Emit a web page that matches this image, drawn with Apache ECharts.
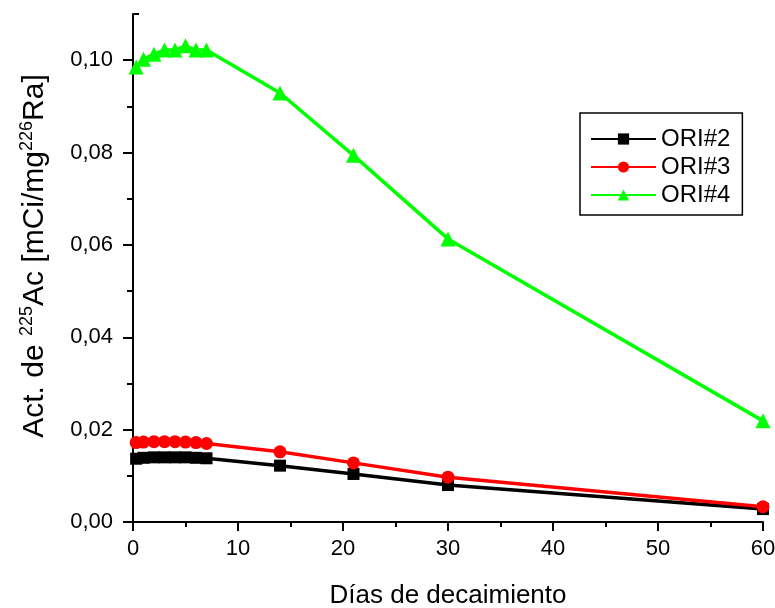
<!DOCTYPE html>
<html><head><meta charset="utf-8">
<script src="https://cdn.jsdelivr.net/npm/echarts@6/dist/echarts.min.js"></script>
<style>html,body{margin:0;padding:0;background:#fff}#c{width:775px;height:608px}</style>
</head><body><div id="c"></div>
<script>
var days = [0.3, 1, 2, 3, 4, 5, 6, 7, 14, 21, 30, 60];
var ori2 = [0.0137, 0.0139, 0.0140, 0.0140, 0.0140, 0.0140, 0.0139, 0.0138, 0.0122, 0.0104, 0.0080, 0.0028];
var ori3 = [0.0172, 0.0173, 0.0174, 0.0174, 0.0174, 0.0173, 0.0172, 0.0170, 0.0152, 0.0128, 0.0097, 0.0033];
var ori4 = [0.0985, 0.1002, 0.1013, 0.1022, 0.1022, 0.1031, 0.1022, 0.1022, 0.0929, 0.0794, 0.0613, 0.0219];
var seriesNames = ['ORI#2', 'ORI#3', 'ORI#4'];
var yMajor = [0, 0.02, 0.04, 0.06, 0.08, 0.10];
var yMinor = [0.01, 0.03, 0.05, 0.07, 0.09];
var yTop = [0.11];

function pairs(v){ return days.map(function(d,i){ return [d, v[i]]; }); }
var font = 'Liberation Sans, Arial, sans-serif';
var chart = echarts.init(document.getElementById('c'));
chart.setOption({
  animation: false,
  backgroundColor: '#fff',
  grid: {left: 133, right: 12, top: 14, bottom: 86, containLabel: false, outerBoundsMode: 'none'},
  legend: {
    orient: 'vertical', left: 580, top: 113,
    borderColor: '#000', borderWidth: 1.5, borderRadius: 0,
    padding: [14, 12, 8, 10], itemGap: 4,
    itemWidth: 65, itemHeight: 14,
    textStyle: {fontFamily: font, fontSize: 24, color: '#000'},
    data: seriesNames
  },
  xAxis: {
    type: 'value', min: 0, max: 60, interval: 10,
    name: 'Días de decaimiento', nameLocation: 'middle', nameGap: 61,
    nameTextStyle: {fontFamily: font, fontSize: 26, color: '#000'},
    axisLine: {lineStyle: {color: '#000', width: 2}},
    axisTick: {show: true, inside: false, length: 9, lineStyle: {color: '#000', width: 2}},
    minorTick: {show: true, splitNumber: 2, length: 5, lineStyle: {color: '#000', width: 2}},
    axisLabel: {fontFamily: font, fontSize: 22, color: '#000', margin: 16},
    splitLine: {show: false}
  },
  yAxis: [{
    type: 'value', min: 0, max: 0.11, interval: 0.01,
    name: 'Act. de {s|225}Ac [mCi/mg{s|226}Ra]', nameLocation: 'middle', nameGap: 82,
    nameTextStyle: {fontFamily: font, fontSize: 30, color: '#000', padding: [0, 0, 0, 24],
      rich: {s: {fontFamily: font, fontSize: 18, verticalAlign: 'top', padding: [0,0,15,0], color: '#000'}}},
    axisLine: {show: true, lineStyle: {color: '#000', width: 2}},
    axisTick: {show: true, inside: false, length: 10, customValues: yMajor, lineStyle: {color: '#000', width: 2}},
    axisLabel: {fontFamily: font, fontSize: 22, color: '#000', margin: 20, customValues: yMajor,
      formatter: function(v){ return v.toFixed(2).replace('.', ','); }},
    splitLine: {show: false}
  }, {
    type: 'value', min: 0, max: 0.11, position: 'left', offset: 0,
    axisLine: {show: false},
    axisTick: {show: true, inside: false, length: 6, customValues: yMinor, lineStyle: {color: '#000', width: 2}},
    axisLabel: {show: false},
    splitLine: {show: false}
  }, {
    type: 'value', min: 0, max: 0.11, position: 'left', offset: 0,
    axisLine: {show: false},
    axisTick: {show: true, inside: true, length: 6, customValues: yTop, lineStyle: {color: '#000', width: 2}},
    axisLabel: {show: false},
    splitLine: {show: false}
  }],
  series: [
    {name: seriesNames[0], type: 'line', data: pairs(ori2), symbol: 'rect', symbolSize: 12,
     color: '#000000', lineStyle: {width: 3.5}, itemStyle: {color: '#000000'}},
    {name: seriesNames[1], type: 'line', data: pairs(ori3), symbol: 'circle', symbolSize: 13,
     color: '#ff0000', lineStyle: {width: 3.5}, itemStyle: {color: '#ff0000'}},
    {name: seriesNames[2], type: 'line', data: pairs(ori4), symbol: 'triangle', symbolSize: 15,
     color: '#00ff00', lineStyle: {width: 3.5}, itemStyle: {color: '#00ff00'}}
  ]
});
</script></body></html>
